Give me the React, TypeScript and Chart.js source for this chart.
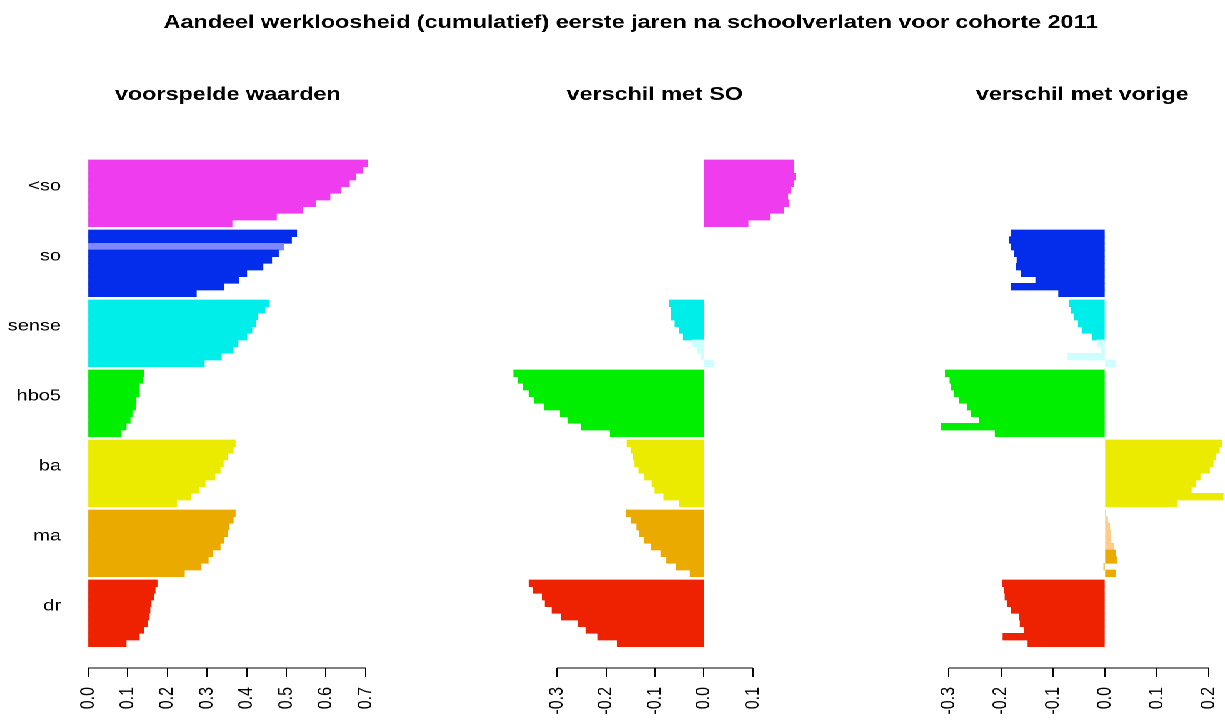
import React, { useEffect, useRef } from "react";
import { Chart, registerables } from "chart.js";

Chart.register(...registerables);

// ---------- data ----------
const MAIN_TITLE =
  "Aandeel werkloosheid (cumulatief) eerste jaren na schoolverlaten voor cohorte 2011";
const PANEL_TITLES = ["voorspelde waarden", "verschil met SO", "verschil met vorige"];
const GROUPS = ["<so", "so", "sense", "hbo5", "ba", "ma", "dr"];

// ten rows per group, listed top to bottom
const predicted: (number | null)[][] = [
  [0.705, 0.692, 0.674, 0.659, 0.637, 0.61, 0.573, 0.54, 0.475, 0.363],
  [0.526, 0.513, 0.493, 0.48, 0.463, 0.441, 0.4, 0.38, 0.343, 0.273],
  [0.456, 0.446, 0.428, 0.423, 0.413, 0.4, 0.378, 0.366, 0.336, 0.293],
  [0.14, 0.138, 0.129, 0.129, 0.121, 0.119, 0.111, 0.106, 0.096, 0.083],
  [0.371, 0.366, 0.351, 0.341, 0.333, 0.32, 0.295, 0.28, 0.26, 0.223],
  [0.371, 0.366, 0.356, 0.351, 0.343, 0.333, 0.313, 0.303, 0.285, 0.243],
  [0.174, 0.169, 0.166, 0.159, 0.156, 0.154, 0.149, 0.141, 0.129, 0.096],
];
const diffSO: (number | null)[][] = [
  [0.183, 0.183, 0.188, 0.183, 0.177, 0.171, 0.173, 0.163, 0.134, 0.09],
  [null, null, null, null, null, null, null, null, null, null],
  [-0.071, -0.067, -0.067, -0.059, -0.05, -0.042, -0.024, -0.014, -0.006, 0.02],
  [-0.389, -0.379, -0.369, -0.357, -0.346, -0.326, -0.293, -0.277, -0.251, -0.191],
  [-0.157, -0.149, -0.145, -0.141, -0.133, -0.122, -0.106, -0.1, -0.082, -0.05],
  [-0.159, -0.149, -0.137, -0.131, -0.122, -0.108, -0.088, -0.076, -0.057, -0.028],
  [-0.357, -0.348, -0.33, -0.324, -0.31, -0.291, -0.256, -0.241, -0.217, -0.177],
];
const diffPrev: (number | null)[][] = [
  [null, null, null, null, null, null, null, null, null, null],
  [-0.18, -0.184, -0.18, -0.174, -0.169, -0.171, -0.161, -0.133, -0.18, -0.089],
  [-0.069, -0.065, -0.059, -0.051, -0.044, -0.024, -0.015, -0.007, -0.071, 0.019],
  [-0.307, -0.298, -0.296, -0.29, -0.28, -0.265, -0.257, -0.242, -0.315, -0.211],
  [0.224, 0.22, 0.212, 0.208, 0.201, 0.183, 0.174, 0.166, 0.228, 0.139],
  [0.001, 0.005, 0.009, 0.01, 0.011, 0.016, 0.02, 0.022, -0.002, 0.02],
  [-0.197, -0.194, -0.192, -0.188, -0.18, -0.165, -0.163, -0.155, -0.196, -0.148],
];
// 1 = not significant (drawn in the pale shade)
const palePredicted = [
  [0, 0, 0, 0, 0, 0, 0, 0, 0, 0],
  [0, 0, 1, 0, 0, 0, 0, 0, 0, 0],
  [0, 0, 0, 0, 0, 0, 0, 0, 0, 0],
  [0, 0, 0, 0, 0, 0, 0, 0, 0, 0],
  [0, 0, 0, 0, 0, 0, 0, 0, 0, 0],
  [0, 0, 0, 0, 0, 0, 0, 0, 0, 0],
  [0, 0, 0, 0, 0, 0, 0, 0, 0, 0],
];
const paleSO = [
  [0, 0, 0, 0, 0, 0, 0, 0, 0, 0],
  [0, 0, 0, 0, 0, 0, 0, 0, 0, 0],
  [0, 0, 0, 0, 0, 0, 1, 1, 1, 1],
  [0, 0, 0, 0, 0, 0, 0, 0, 0, 0],
  [0, 0, 0, 0, 0, 0, 0, 0, 0, 0],
  [0, 0, 0, 0, 0, 0, 0, 0, 0, 0],
  [0, 0, 0, 0, 0, 0, 0, 0, 0, 0],
];
const palePrev = [
  [0, 0, 0, 0, 0, 0, 0, 0, 0, 0],
  [0, 0, 0, 0, 0, 0, 0, 0, 0, 0],
  [0, 0, 0, 0, 0, 0, 1, 1, 1, 1],
  [0, 0, 0, 0, 0, 0, 0, 0, 0, 0],
  [0, 0, 0, 0, 0, 0, 0, 0, 0, 0],
  [1, 1, 1, 1, 1, 1, 0, 0, 0, 0],
  [0, 0, 0, 0, 0, 0, 0, 0, 0, 0],
];
const TICKS_PRED = [0, 0.1, 0.2, 0.3, 0.4, 0.5, 0.6, 0.7];
const TICKS_SO = [-0.3, -0.2, -0.1, 0, 0.1];
const TICKS_PREV = [-0.3, -0.2, -0.1, 0, 0.1, 0.2];

// ---------- styling / layout ----------
const COLORS = ["#EE3CEE", "#042DEB", "#00EEEA", "#00EE00", "#EBEB00", "#EBAA00", "#EE2200"];
const PALE = ["#F8B0F8", "#8088FF", "#CCFFFF", "#A8FFA8", "#FFFFA8", "#FFCC88", "#FFB0A0"];
const FONT = "'Liberation Sans', Arial, Helvetica, sans-serif";
const BASE_W = 980;
const CANVAS_W = 1020;
const H = 725;
const STRETCH = 1225 / BASE_W;
const ROWS = 10;
const GAP = 0.5;
const pos = (g: number, r: number) => g * (ROWS + GAP) + r + 0.5;

const PANELS = [
  { values: predicted, pale: palePredicted, ticks: TICKS_PRED, left: 70.4, right: 294.0, labels: true },
  { values: diffSO, pale: paleSO, ticks: TICKS_SO, left: 410.7, right: 636.9, labels: false },
  { values: diffPrev, pale: palePrev, ticks: TICKS_PREV, left: 753.0, right: 978.8, labels: false },
];

function makeChart(canvas: HTMLCanvasElement, idx: number) {
  const p = PANELS[idx];
  const data: { x: number | null; y: number }[] = [];
  const bg: string[] = [];
  p.values.forEach((rows, g) =>
    rows.forEach((v, r) => {
      data.push({ x: v, y: pos(g, r) });
      bg.push(p.pale[g][r] ? PALE[g] : COLORS[g]);
    })
  );
  const flat = p.values.flat().filter((v): v is number => v !== null);
  const xmin = Math.min(0, ...flat);
  const xmax = Math.max(0, ...flat);

  const overlay = {
    id: "overlay" + idx,
    afterDraw(chart: any) {
      const ctx = chart.ctx as CanvasRenderingContext2D;
      const area = chart.chartArea;
      const xs = chart.scales.x;
      ctx.save();
      // axis line from first to last tick
      const y0 = Math.round(xs.top * 2) / 2;
      ctx.strokeStyle = "#000";
      ctx.lineWidth = 1;
      ctx.beginPath();
      ctx.moveTo(xs.getPixelForValue(p.ticks[0]), y0);
      ctx.lineTo(xs.getPixelForValue(p.ticks[p.ticks.length - 1]), y0);
      ctx.stroke();
      // panel title
      ctx.fillStyle = "#000";
      ctx.textAlign = "center";
      ctx.textBaseline = "alphabetic";
      ctx.font = `bold 18.7px ${FONT}`;
      ctx.fillText(PANEL_TITLES[idx], (area.left + area.right) / 2, 100);
      if (idx === 1) {
        ctx.fillText(MAIN_TITLE, 504.8, 28);
      }
      ctx.restore();
    },
  };

  return new Chart(canvas, {
    type: "bar",
    data: {
      datasets: [
        {
          data: data as any,
          backgroundColor: bg,
          borderWidth: 0,
          barPercentage: 1,
          categoryPercentage: 1,
        },
      ],
    },
    options: {
      indexAxis: "y",
      animation: false,
      responsive: false,
      devicePixelRatio: 2,
      events: [],
      layout: {
        padding: { left: p.labels ? 0 : p.left, right: CANVAS_W - p.right, top: 150, bottom: 0 },
      },
      plugins: {
        legend: { display: false },
        tooltip: { enabled: false },
        title: { display: false },
      },
      scales: {
        x: {
          type: "linear",
          position: "bottom",
          offset: false,
          min: xmin,
          max: xmax,
          afterBuildTicks: (s: any) => {
            s.ticks = p.ticks.map((v) => ({ value: v }));
          },
          afterFit: (s: any) => {
            s.height = 57;
          },
          grid: {
            display: true,
            drawOnChartArea: false,
            drawTicks: true,
            tickLength: 9,
            color: "#000",
            lineWidth: 1,
            offset: false,
          },
          border: { display: false },
          ticks: {
            autoSkip: false,
            minRotation: 90,
            maxRotation: 90,
            padding: 10,
            color: "#000",
            font: { family: FONT, size: 16 },
            callback: (v: any) => Number(v).toFixed(1),
          },
        },
        y: {
          type: "linear",
          reverse: true,
          offset: false,
          min: -1.5,
          max: 76.2,
          display: p.labels,
          afterBuildTicks: (s: any) => {
            s.ticks = GROUPS.map((_, g) => ({ value: pos(g, 4.5) }));
          },
          afterFit: (s: any) => {
            if (p.labels) s.width = p.left;
          },
          grid: { display: false, drawTicks: false, offset: false },
          border: { display: false },
          ticks: {
            autoSkip: false,
            padding: 21.6,
            labelOffset: -7,
            color: "#000",
            font: { family: FONT, size: 16 },
            callback: (_v: any, i: number) => GROUPS[i],
          },
        },
      },
    } as any,
    plugins: [overlay],
  });
}

export default function App() {
  const r0 = useRef<HTMLCanvasElement>(null);
  const r1 = useRef<HTMLCanvasElement>(null);
  const r2 = useRef<HTMLCanvasElement>(null);
  const refs = [r0, r1, r2];

  useEffect(() => {
    const charts = refs.map((r, i) => makeChart(r.current as HTMLCanvasElement, i));
    return () => charts.forEach((c) => c.destroy());
  }, []);

  return (
    <div
      style={{
        position: "fixed",
        left: 0,
        top: 0,
        width: BASE_W,
        height: H,
        background: "#fff",
        transform: `scaleX(${STRETCH})`,
        transformOrigin: "0 0",
        overflow: "hidden",
      }}
    >
      {refs.map((r, i) => (
        <canvas
          key={i}
          ref={r}
          width={CANVAS_W}
          height={H}
          style={{ position: "absolute", left: 0, top: 0 }}
        />
      ))}
    </div>
  );
}
